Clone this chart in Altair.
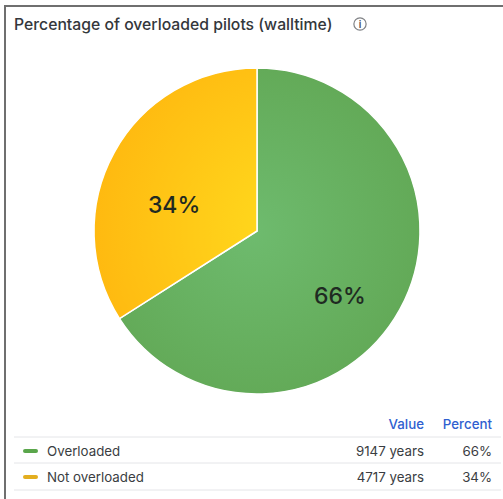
import altair as alt
import pandas as pd

categories = ["Overloaded", "Not overloaded"]
years = [9147, 4717]
value_labels = ["9147 years", "4717 years"]
percents = ["66%", "34%"]
swatches = ["#5AA64B", "#E3AE1F"]
row_y = [451, 477]
divider_y = [437, 463, 490]

FONT = "Inter"
total = sum(years)
cx, cy, outer = 257, 231, 163
angle_scale = alt.Scale(domain=[0, total], range=[0, 6.2832])
stack_sort = [alt.SortField("years", order="descending")]


def radial(inner, edge, x, y, r):
    return alt.RadialGradient(
        gradient="radial", x1=x, y1=y, r1=0, x2=x, y2=y, r2=r,
        stops=[alt.GradientStop(offset=0, color=inner), alt.GradientStop(offset=1, color=edge)],
    )


slices = pd.DataFrame({"category": categories, "years": years, "percent": percents})


def pie_layer(name, fill):
    return (
        alt.Chart(slices)
        .transform_stack(stack="years", groupby=[], as_=["start", "end"], sort=stack_sort)
        .transform_filter(alt.datum.category == name)
        .mark_arc(fill=fill, stroke="white", strokeWidth=1.5, outerRadius=outer)
        .encode(
            theta=alt.Theta("start:Q", scale=angle_scale),
            theta2="end:Q",
            x=alt.value(cx),
            y=alt.value(cy),
        )
    )


def pie_label(name, dx, dy):
    return (
        alt.Chart(slices)
        .transform_stack(stack="years", groupby=[], as_=["start", "end"], sort=stack_sort)
        .transform_calculate(mid="(datum.start + datum.end) / 2")
        .transform_filter(alt.datum.category == name)
        .mark_text(font=FONT, fontSize=23, fontWeight=500, color="#1f2a22", radius=90, dx=dx, dy=dy)
        .encode(
            theta=alt.Theta("mid:Q", scale=angle_scale),
            x=alt.value(cx),
            y=alt.value(cy),
            text="percent:N",
        )
    )


def text_layer(rows, align, size=13.3, weight=400, color="#3a3d42"):
    return alt.Chart(pd.DataFrame(rows)).mark_text(
        font=FONT, fontSize=size, fontWeight=weight, color=color, align=align, baseline="middle"
    ).encode(x=alt.X("x:Q", scale=None), y=alt.Y("y:Q", scale=None), text="t:N")


frame = alt.Chart(pd.DataFrame({"x": [5, 5, 503], "y": [499, 6, 6]})).mark_line(
    color="#6f6f6f", strokeWidth=2
).encode(x=alt.X("x:Q", scale=None), y=alt.Y("y:Q", scale=None), order=alt.Order("y:Q", sort="descending"))

dividers = alt.Chart(pd.DataFrame({"y": divider_y})).mark_rule(color="#e4e5e8", strokeWidth=1).encode(
    y=alt.Y("y:Q", scale=None), x=alt.value(14), x2=alt.value(501)
)

legend_marks = alt.Chart(pd.DataFrame({"y": row_y, "c": swatches})).mark_rule(
    strokeWidth=4, strokeCap="round"
).encode(
    y=alt.Y("y:Q", scale=None), x=alt.value(25), x2=alt.value(36),
    color=alt.Color("c:N", scale=None),
)

info_ring = alt.Chart(pd.DataFrame({"x": [360], "y": [24]})).mark_point(
    size=150, shape="circle", filled=False, stroke="#4a4d52", strokeWidth=1.2
).encode(x=alt.X("x:Q", scale=None), y=alt.Y("y:Q", scale=None))

chart = alt.layer(
    frame,
    pie_layer("Overloaded", radial("#6EBB6E", "#61A754", 0.45, 0.5, 0.6)),
    pie_layer("Not overloaded", radial("#FFDD1F", "#FFB20D", 1.0, 0.65, 1.0)),
    pie_label("Overloaded", 4, 23),
    pie_label("Not overloaded", -4, 18),
    text_layer([{"x": 14, "y": 25, "t": "Percentage of overloaded pilots (walltime)"}], "left", 15.75, 500, "#34373b"),
    info_ring,
    text_layer([{"x": 360, "y": 24.5, "t": "i"}], "center", 10, 600, "#4a4d52"),
    text_layer([{"x": 424, "y": 424.5, "t": "Value"}, {"x": 492, "y": 424.5, "t": "Percent"}], "right", 13.3, 500, "#2f5fd0"),
    dividers,
    legend_marks,
    text_layer([{"x": 47, "y": y + 0.5, "t": t} for y, t in zip(row_y, categories)], "left"),
    text_layer([{"x": 424, "y": y + 0.5, "t": t} for y, t in zip(row_y, value_labels)], "right"),
    text_layer([{"x": 492, "y": y + 0.5, "t": t} for y, t in zip(row_y, percents)], "right"),
).properties(
    width=503, height=499, padding=0, background="white",
    autosize=alt.AutoSizeParams(type="none"),
).configure_view(stroke=None)

chart.save("out.html", embed_options={"renderer": "svg", "actions": False})
